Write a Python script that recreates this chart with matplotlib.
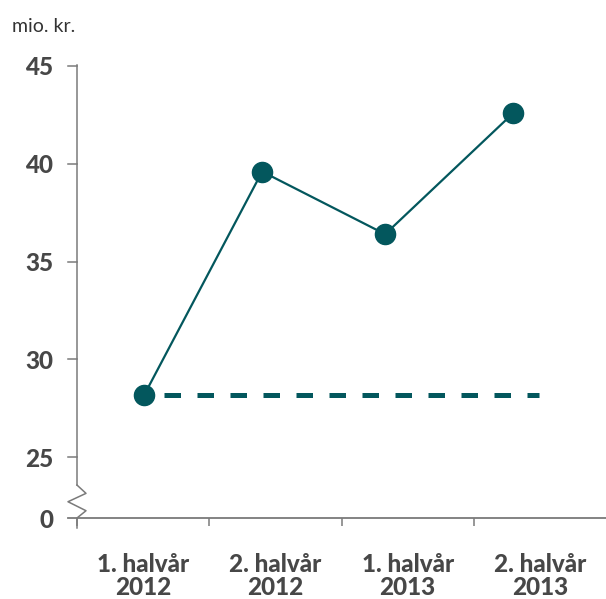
import matplotlib
matplotlib.use("Agg")
import matplotlib.pyplot as plt
import matplotlib.transforms as mtransforms

# ---- data ----
categories = ["1. halvår\n2012", "2. halvår\n2012", "1. halvår\n2013", "2. halvår\n2013"]
values = [28.2, 39.6, 36.4, 42.6]
point_x = [0.51, 1.40, 2.33, 3.30]
baseline_value = 28.2
baseline_end = 3.49
ytick_values = [25, 30, 35, 40, 45]
ytick_labels = ["25", "30", "35", "40", "45"]
zero_label = "0"
unit_label = "mio. kr."

# ---- style ----
TEAL = "#03575d"
AXIS = "#7a7a7a"
TEXT = "#474747"
FONT = ["Lato", "DejaVu Sans"]

W, H = 606, 599
fig = plt.figure(figsize=(W / 100, H / 100), dpi=100)
left_px, right_px, top_px, bottom_px = 77, 606, 65, 518
ax = fig.add_axes([left_px / W, (H - bottom_px) / H,
                   (right_px - left_px) / W, (bottom_px - top_px) / H])

ppu = 19.6  # pixels per unit
y_top = 45 + 1 / ppu
y_bot = 25 - (bottom_px - 457) / ppu
ax.set_xlim(0, 4)
ax.set_ylim(y_bot, y_top)

# line + dashed baseline
ax.plot([point_x[0] + 0.15, baseline_end], [baseline_value, baseline_value],
        color=TEAL, lw=3.6, dashes=(3.3, 3.3), solid_capstyle="butt",
        dash_capstyle="butt", zorder=2)
ax.plot(point_x, values, color=TEAL, lw=1.6, marker="o", markersize=14.5,
        markerfacecolor=TEAL, markeredgecolor=TEAL, zorder=3, clip_on=False)

# spines
for s in ["top", "right"]:
    ax.spines[s].set_visible(False)
break_top = 25 - (485 - 457) / ppu
ax.spines["left"].set_bounds(break_top, y_top)
ax.spines["left"].set_color(AXIS)
ax.spines["left"].set_linewidth(1.1)
ax.spines["bottom"].set_color(AXIS)
ax.spines["bottom"].set_linewidth(1.3)
ax.spines["bottom"].set_bounds(-9 / 132.25, 4)

# axis break zigzag
bt = mtransforms.blended_transform_factory(ax.transAxes, ax.transData)
aw = right_px - left_px
zx = [0, 9 / aw, -9 / aw, 9 / aw, 0, 0]
zy = [break_top, break_top - 8.3 / ppu, break_top - 16.7 / ppu,
      break_top - 25.7 / ppu, y_bot, y_bot - 10 / ppu]
ax.plot(zx, zy, color=AXIS, lw=1.1, transform=bt, clip_on=False)

# y ticks
ax.set_yticks([y_bot] + ytick_values)
ax.set_yticklabels([zero_label] + ytick_labels)
ax.tick_params(axis="y", length=0, pad=17, labelsize=17.5, labelcolor=TEXT)
for v in ytick_values:
    ax.plot([-9 / aw, 0], [v, v], color=AXIS, lw=1.1, transform=bt, clip_on=False)
for lab in ax.get_yticklabels():
    lab.set_fontfamily(FONT)
    lab.set_fontweight(900)

# x ticks
ax.set_xticks([0, 1, 2, 3])
ax.set_xticklabels([])
ax.tick_params(axis="x", which="major", length=6, width=1.1, color=AXIS)
ax.set_xticks([0.5, 1.5, 2.5, 3.5], minor=True)
ax.set_xticklabels(categories, minor=True)
ax.tick_params(axis="x", which="minor", length=0, pad=25, labelsize=17.5,
               labelcolor=TEXT)
for lab in ax.get_xticklabels(minor=True):
    lab.set_fontfamily(FONT)
    lab.set_fontweight(900)
    lab.set_linespacing(1.02)

fig.text(12 / W, 1 - 32 / H, unit_label, fontsize=14, color="#333333",
         family=FONT, ha="left", va="baseline")

fig.savefig("out.png", dpi=100)
